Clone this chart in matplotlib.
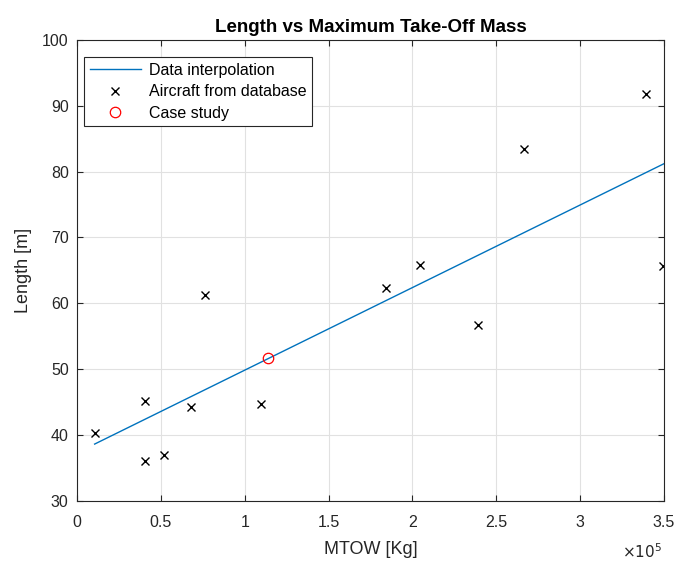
#!/usr/bin/env python3
import matplotlib
matplotlib.use('Agg')
import matplotlib.pyplot as plt
from matplotlib.ticker import FuncFormatter

# Data (MTOW in Kg, length in m)
mtow = [0.105e5, 0.405e5, 0.405e5, 0.518e5, 0.679e5, 0.762e5, 1.095e5,
        1.843e5, 2.046e5, 2.391e5, 2.667e5, 3.391e5, 3.494e5]
length = [40.3, 45.2, 36.0, 37.0, 44.2, 61.3, 44.65,
          62.3, 65.8, 56.7, 83.4, 91.8, 65.7]

# interpolation line end points
fit_x = [0.105e5, 3.5e5]
fit_y = [38.6, 81.2]

case_x = [1.137e5]
case_y = [51.7]

plt.rcParams['font.family'] = ['Liberation Sans', 'DejaVu Sans']
axcol = '#262626'

fig = plt.figure(figsize=(6.78, 5.63), dpi=100)
ax = fig.add_axes([0.1136, 0.1107, 0.8657, 0.8183])

ax.plot(fit_x, fit_y, color='#0072BD', lw=1.0, label='Data interpolation')
ax.plot(mtow, length, 'x', color='black', ms=6, mew=1.0, label='Aircraft from database')
ax.plot(case_x, case_y, 'o', mfc='none', mec='red', ms=7.5, mew=0.9, label='Case study')

ax.set_xlim(0, 3.5e5)
ax.set_ylim(30, 100)
ax.set_xticks([i * 0.5e5 for i in range(8)])
ax.set_yticks(range(30, 101, 10))
ax.xaxis.set_major_formatter(FuncFormatter(lambda v, p: f'{v/1e5:g}'))

ax.grid(True, color='#e1e1e1', lw=0.8)
ax.set_axisbelow(True)
ax.tick_params(direction='in', length=4, width=0.8, colors=axcol, labelsize=11.5,
               top=True, right=True)
ax.tick_params(axis='x', pad=10.5)
ax.tick_params(axis='y', pad=6)
for s in ax.spines.values():
    s.set_color(axcol)
    s.set_linewidth(0.8)

ax.set_xlabel('MTOW [Kg]', fontsize=13, color=axcol)
ax.set_ylabel('Length [m]', fontsize=13, color=axcol)
ax.xaxis.set_label_coords(0.5, -0.087)
ax.yaxis.set_label_coords(-0.077, 0.5)
ax.set_title('Length vs Maximum Take-Off Mass', fontsize=13.5, fontweight='bold', pad=6)
fig.text(0.947, 0.021, r'$\times10^{5}$', fontsize=11, color=axcol, ha='center', va='center')

leg = ax.legend(loc='upper left', bbox_to_anchor=(0.012, 0.962), fontsize=11.5,
                frameon=True, fancybox=False, framealpha=1, edgecolor=axcol,
                borderpad=0.35, labelspacing=0.4, handlelength=3.2, handletextpad=0.5,
                borderaxespad=0)
leg.get_frame().set_linewidth(0.8)

fig.savefig('out.png', dpi=100)
